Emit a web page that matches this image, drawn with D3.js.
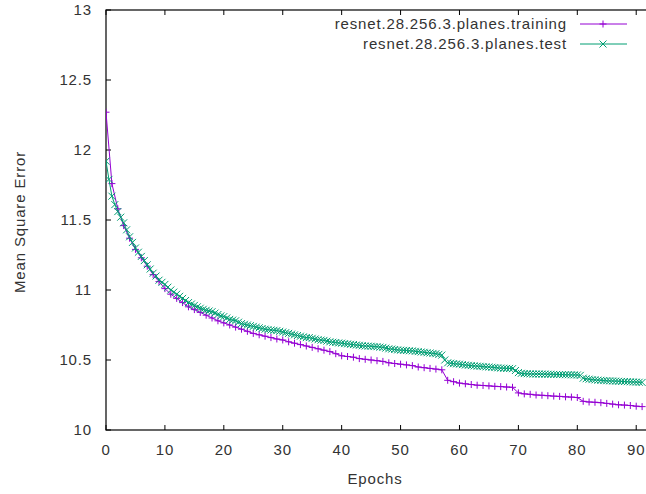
<html>
<head>
<script src="https://d3js.org/d3.v7.min.js"></script>
<style>
  body { margin: 0; background: white; }
  svg { font-family: "Liberation Sans", Arial, sans-serif; }
  .lbl { font-size: 15px; letter-spacing: 0.85px; fill: #333; }
</style>
</head>
<body>
<svg id="chart" width="646" height="494"></svg>
<script>
// training MSE, one value per epoch (0..91)
const trainMSE = [
  12.27, 11.76, 11.58, 11.46, 11.37, 11.29, 11.23, 11.17, 11.11, 11.06,
  11.01, 10.97, 10.94, 10.91, 10.88, 10.86, 10.84, 10.82, 10.80, 10.78,
  10.765, 10.75, 10.735, 10.72, 10.705, 10.69, 10.68, 10.67, 10.66, 10.65,
  10.643, 10.63, 10.62, 10.61, 10.60, 10.59, 10.58, 10.57, 10.56, 10.545,
  10.53, 10.525, 10.52, 10.51, 10.505, 10.50, 10.495, 10.49, 10.48, 10.475,
  10.47, 10.465, 10.46, 10.45, 10.445, 10.44, 10.435, 10.43, 10.355, 10.345,
  10.335, 10.33, 10.325, 10.32, 10.318, 10.315, 10.312, 10.31, 10.307, 10.305,
  10.265, 10.258, 10.255, 10.25, 10.248, 10.245, 10.242, 10.24, 10.237, 10.235,
  10.232, 10.205, 10.20, 10.198, 10.195, 10.19, 10.185, 10.18, 10.178, 10.175,
  10.17, 10.167
];
const trainStep = 1;

// test MSE, one value per half epoch (0..91)
const testMSE = [
  11.92, 11.79, 11.67, 11.61, 11.56, 11.52, 11.48, 11.43, 11.38, 11.34, 11.30, 11.27, 11.24, 11.21, 11.18, 11.15, 11.12, 11.10, 11.07, 11.055,
  11.04, 11.02, 11.00, 10.985, 10.97, 10.955, 10.94, 10.925, 10.91, 10.90, 10.89, 10.88, 10.87, 10.862, 10.855, 10.85, 10.845, 10.835, 10.825, 10.815,
  10.81, 10.80, 10.79, 10.785, 10.78, 10.77, 10.76, 10.755, 10.75, 10.745, 10.74, 10.735, 10.73, 10.725, 10.72, 10.717, 10.714, 10.712, 10.71, 10.705,
  10.70, 10.695, 10.69, 10.685, 10.68, 10.675, 10.67, 10.665, 10.66, 10.66, 10.655, 10.65, 10.645, 10.642, 10.64, 10.635, 10.63, 10.627, 10.625, 10.622,
  10.62, 10.617, 10.615, 10.612, 10.61, 10.607, 10.605, 10.602, 10.60, 10.599, 10.598, 10.596, 10.595, 10.592, 10.59, 10.585, 10.58, 10.578, 10.575, 10.572,
  10.57, 10.569, 10.568, 10.566, 10.565, 10.562, 10.56, 10.557, 10.555, 10.552, 10.55, 10.547, 10.545, 10.54, 10.535, 10.50, 10.48, 10.477, 10.474, 10.472,
  10.47, 10.467, 10.464, 10.462, 10.46, 10.458, 10.456, 10.455, 10.453, 10.451, 10.45, 10.448, 10.446, 10.444, 10.442, 10.441, 10.44, 10.44, 10.438, 10.425,
  10.41, 10.405, 10.403, 10.402, 10.401, 10.40, 10.40, 10.40, 10.399, 10.399, 10.398, 10.398, 10.397, 10.397, 10.396, 10.396, 10.395, 10.395, 10.394, 10.394,
  10.393, 10.39, 10.37, 10.366, 10.363, 10.36, 10.358, 10.356, 10.355, 10.353, 10.352, 10.351, 10.35, 10.349, 10.348, 10.347, 10.346, 10.345, 10.344, 10.343,
  10.342, 10.341, 10.34
];
const testStep = 0.5;

const xTicks = [0, 10, 20, 30, 40, 50, 60, 70, 80, 90];
const yTicks = [10, 10.5, 11, 11.5, 12, 12.5, 13];
const seriesNames = ["resnet.28.256.3.planes.training", "resnet.28.256.3.planes.test"];
const colors = ["#9400d3", "#009e73"];

const svg = d3.select("#chart");
const mLeft = 106, mRight = 648, mTop = 10, mBottom = 430;

const x = d3.scaleLinear().domain([0, 92]).range([mLeft, mRight]);
const y = d3.scaleLinear().domain([10, 13]).range([mBottom, mTop]);

// border
svg.append("rect")
  .attr("x", mLeft).attr("y", mTop)
  .attr("width", mRight - mLeft).attr("height", mBottom - mTop)
  .attr("fill", "none").attr("stroke", "#000").attr("stroke-width", 1.2);

const tl = 5;
// x ticks, bottom and mirrored on top
xTicks.forEach(t => {
  svg.append("line").attr("x1", x(t)).attr("x2", x(t)).attr("y1", mBottom).attr("y2", mBottom - tl).attr("stroke", "#000");
  svg.append("line").attr("x1", x(t)).attr("x2", x(t)).attr("y1", mTop).attr("y2", mTop + tl).attr("stroke", "#000");
  svg.append("text").attr("class", "lbl")
    .attr("x", x(t)).attr("y", 455).attr("text-anchor", "middle").text(t);
});
yTicks.forEach(t => {
  svg.append("line").attr("x1", mLeft).attr("x2", mLeft + tl).attr("y1", y(t)).attr("y2", y(t)).attr("stroke", "#000");
  svg.append("text").attr("class", "lbl")
    .attr("x", 92).attr("y", y(t)).attr("dy", "0.36em").attr("text-anchor", "end").text(t);
});

svg.append("text").attr("class", "lbl")
  .attr("x", 375).attr("y", 484).attr("text-anchor", "middle").text("Epochs");
svg.append("text").attr("class", "lbl")
  .attr("transform", "translate(25,222) rotate(-90)").attr("text-anchor", "middle").text("Mean Square Error");

const plot = svg.append("g");
svg.append("clipPath").attr("id", "clip").append("rect")
  .attr("x", mLeft).attr("y", mTop).attr("width", mRight - mLeft).attr("height", mBottom - mTop);
plot.attr("clip-path", "url(#clip)");

const line = d3.line().x(d => x(d[0])).y(d => y(d[1]));

const trainPts = trainMSE.map((v, i) => [i * trainStep, v]);
const testPts = testMSE.map((v, i) => [i * testStep, v]);

const ms = 3.5;
function plus(g, px, py, c) {
  g.append("path").attr("d", `M${px - ms},${py}H${px + ms}M${px},${py - ms}V${py + ms}`)
    .attr("stroke", c).attr("stroke-width", 1).attr("fill", "none");
}
function cross(g, px, py, c) {
  g.append("path").attr("d", `M${px - ms},${py - ms}L${px + ms},${py + ms}M${px - ms},${py + ms}L${px + ms},${py - ms}`)
    .attr("stroke", c).attr("stroke-width", 1).attr("fill", "none");
}

plot.append("path").datum(trainPts).attr("d", line)
  .attr("fill", "none").attr("stroke", colors[0]).attr("stroke-width", 1);
trainPts.forEach(d => plus(plot, x(d[0]), y(d[1]), colors[0]));

plot.append("path").datum(testPts).attr("d", line)
  .attr("fill", "none").attr("stroke", colors[1]).attr("stroke-width", 1);
testPts.forEach(d => cross(plot, x(d[0]), y(d[1]), colors[1]));

// legend
const legY = [24, 44];
seriesNames.forEach((n, i) => {
  svg.append("text").attr("class", "lbl")
    .attr("x", 567).attr("y", legY[i]).attr("dy", "0.36em").attr("text-anchor", "end").text(n);
  svg.append("line").attr("x1", 580).attr("x2", 627).attr("y1", legY[i]).attr("y2", legY[i])
    .attr("stroke", colors[i]).attr("stroke-width", 1);
  if (i === 0) plus(svg, 603, legY[i], colors[i]);
  else cross(svg, 603, legY[i], colors[i]);
});
</script>
</body>
</html>
